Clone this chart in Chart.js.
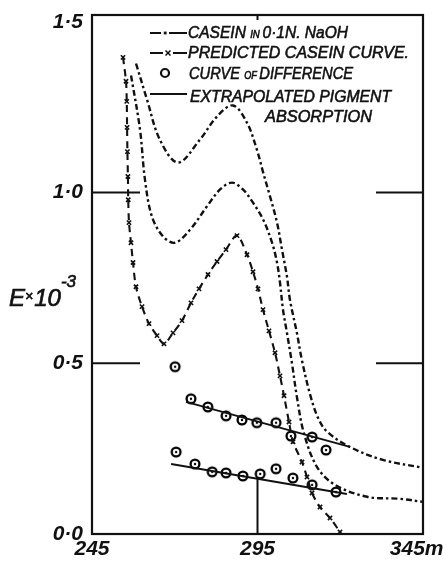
<!DOCTYPE html>
<html><head><meta charset="utf-8">
<script src="https://cdn.jsdelivr.net/npm/chart.js@4"></script>
<style>html,body{margin:0;padding:0;background:#fff;} #wrap{width:443px;height:566px;position:relative;}</style>
</head><body><div id="wrap"><canvas id="c"></canvas></div>
<script>
// ---- data ----
const xTickValues = [245, 295, 345];
const xTickLabels = ['245', '295', '345mμ'];
const yTickValues = [0, 0.5, 1.0, 1.5];
const yTickLabels = ['0·0', '0·5', '1·0', '1·5'];

const caseinUpperX = [258.3,261.6,265.5,271.0,277.6,282.8,287.6,291.8,294.8,296.7,298.8,300.9,302.4,303.9,304.8,306.9,308.4,310.9,313.3,316.0,322.9,332.9,345.0];
const caseinUpperY = [1.378,1.273,1.155,1.088,1.155,1.223,1.255,1.205,1.126,1.059,0.988,0.912,0.833,0.754,0.686,0.589,0.510,0.408,0.340,0.300,0.255,0.217,0.194];

const caseinLowerX = [256.8,259.5,261.0,263.1,266.5,270.1,274.6,279.7,283.7,287.3,290.6,293.6,296.7,299.4,300.9,301.8,302.7,303.9,305.4,306.9,309.0,313.0,318.4,328.1,338.1,345.0];
const caseinLowerY = [1.343,1.185,1.038,0.930,0.871,0.853,0.891,0.959,1.009,1.029,1.009,0.971,0.921,0.853,0.795,0.736,0.657,0.589,0.501,0.402,0.296,0.196,0.144,0.109,0.103,0.094];

const predictedX = [254.37,255.27,255.50,255.60,255.70,255.85,255.95,256.18,256.78,257.39,258.29,260.11,262.22,264.64,266.75,269.47,272.19,274.91,277.33,280.05,282.77,285.48,288.81,291.83,293.64,295.15,296.66,298.47,300.29,301.80,303.01,304.52,305.73,308.44,309.95,311.47,313.88,316.90,319.92];
const predictedY = [1.396,1.326,1.267,1.191,1.120,1.047,0.979,0.912,0.853,0.795,0.724,0.666,0.616,0.581,0.557,0.589,0.625,0.677,0.718,0.760,0.798,0.833,0.874,0.818,0.768,0.718,0.657,0.595,0.531,0.463,0.405,0.328,0.270,0.211,0.167,0.120,0.079,0.047,0.006];

const diffUpperX = [270.1,274.9,280.0,285.5,290.3,294.8,300.6,305.1,311.5,315.7];
const diffUpperY = [0.490,0.396,0.372,0.346,0.334,0.326,0.326,0.287,0.284,0.246];
const diffLowerX = [270.4,276.1,281.3,285.5,290.6,295.8,300.6,305.7,311.5,318.7];
const diffLowerY = [0.240,0.205,0.182,0.179,0.170,0.176,0.191,0.164,0.144,0.123];

const pigmentUpperX = [273.4, 322.9];
const pigmentUpperY = [0.387, 0.255];
const pigmentLowerX = [268.9, 322.0];
const pigmentLowerY = [0.205, 0.117];

const legendLabels = ['CASEIN IN 0·1N. NaOH', 'PREDICTED CASEIN CURVE.', 'CURVE OF DIFFERENCE', 'EXTRAPOLATED PIGMENT ABSORPTION'];

// ---- styling ----
const INK = '#111';
const FONT = '"Liberation Sans", Arimo, "DejaVu Sans", sans-serif';
const DASHDOT = [6, 3, 2.5, 3];

function pts(xs, ys) { return xs.map((x, i) => ({ x: x, y: ys[i] })); }

const ring = document.createElement('canvas');
ring.width = 14; ring.height = 14;
(function () {
  const g = ring.getContext('2d');
  g.beginPath(); g.arc(7, 7, 4.4, 0, Math.PI * 2);
  g.fillStyle = '#fff'; g.fill();
  g.strokeStyle = '#000'; g.lineWidth = 2.3; g.stroke();
  g.beginPath(); g.arc(7, 7, 1.2, 0, Math.PI * 2);
  g.fillStyle = '#000'; g.fill();
})();

const figurePlugin = {
  id: 'figure',
  beforeDatasetsDraw(chart) {
    const ctx = chart.ctx, a = chart.chartArea;
    const xs = chart.scales.x, ys = chart.scales.y;
    ctx.save();
    ctx.strokeStyle = INK;
    ctx.lineWidth = 2.2;
    ctx.strokeRect(a.left, a.top, a.right - a.left, a.bottom - a.top);
    ctx.lineWidth = 2;
    yTickValues.forEach(v => {
      if (v <= ys.min || v >= 1.5) return;
      const py = ys.getPixelForValue(v);
      ctx.beginPath();
      ctx.moveTo(a.left, py); ctx.lineTo(a.left + 48, py);
      ctx.moveTo(a.right - 47, py); ctx.lineTo(a.right, py);
      ctx.stroke();
    });
    xTickValues.forEach(v => {
      if (v <= xs.min || v >= xs.max) return;
      const px = xs.getPixelForValue(v);
      ctx.beginPath();
      ctx.moveTo(px, a.bottom); ctx.lineTo(px, a.bottom - 57);
      ctx.moveTo(px, a.top); ctx.lineTo(px, a.top + 5);
      ctx.stroke();
    });
    ctx.restore();
  },
  afterDraw(chart) {
    const ctx = chart.ctx;
    ctx.save();
    ctx.fillStyle = INK;
    ctx.strokeStyle = INK;
    ctx.textBaseline = 'alphabetic';
    // y axis title  E×10^-3
    let x = 9;
    const parts = [['E', 24, 306], ['×', 14, 301], ['10', 24, 306], ['-3', 17, 287]];
    ctx.lineWidth = 0.7;
    parts.forEach(p => {
      ctx.font = 'italic ' + p[1] + 'px ' + FONT;
      ctx.fillText(p[0], x, p[2]);
      ctx.strokeText(p[0], x, p[2]);
      x += ctx.measureText(p[0]).width + (p[0] === '×' ? 1 : 0);
    });

    // legend
    const rows = [
      { sample: 'dashdot', parts: [['CASEIN ', 1], ['IN ', 0.62], ['0·1N. NaOH', 1]], x: 188, w: 160, base: 38, sy: 33 },
      { sample: 'cross', parts: [[legendLabels[1], 1]], x: 188, w: 221, base: 58, sy: 53 },
      { sample: 'ring', parts: [['CURVE ', 1], ['OF ', 0.62], ['DIFFERENCE', 1]], x: 189, w: 164, base: 79, sy: 73 },
      { sample: 'solid', parts: [['EXTRAPOLATED PIGMENT', 1]], x: 190, w: 201, base: 102, sy: 94 },
      { sample: null, parts: [['ABSORPTION', 1]], x: 265, w: 107, base: 122 }
    ];
    const size = 17;
    rows.forEach(r => {
      let total = 0;
      r.parts.forEach(p => { ctx.font = 'italic ' + (size * p[1]) + 'px ' + FONT; total += ctx.measureText(p[0]).width; });
      const sx = r.w / total;
      ctx.save();
      ctx.translate(r.x, r.base);
      ctx.scale(sx, 1);
      ctx.lineWidth = 0.6;
      let cx = 0;
      r.parts.forEach(p => {
        ctx.font = 'italic ' + (size * p[1]) + 'px ' + FONT;
        ctx.fillText(p[0], cx, 0);
        ctx.strokeText(p[0], cx, 0);
        cx += ctx.measureText(p[0]).width;
      });
      ctx.restore();
      ctx.lineWidth = 2;
      ctx.setLineDash([]);
      if (r.sample === 'dashdot') {
        ctx.beginPath(); ctx.moveTo(150, r.sy); ctx.lineTo(161, r.sy); ctx.moveTo(169, r.sy); ctx.lineTo(187, r.sy); ctx.stroke();
        ctx.fillRect(163.8, r.sy - 1.4, 2.8, 2.8);
      } else if (r.sample === 'cross') {
        ctx.beginPath(); ctx.moveTo(150, r.sy); ctx.lineTo(163, r.sy); ctx.moveTo(173, r.sy); ctx.lineTo(187, r.sy); ctx.stroke();
        ctx.lineWidth = 1.5;
        ctx.beginPath(); ctx.moveTo(165.5, r.sy - 2.5); ctx.lineTo(170.5, r.sy + 2.5); ctx.moveTo(170.5, r.sy - 2.5); ctx.lineTo(165.5, r.sy + 2.5); ctx.stroke();
      } else if (r.sample === 'ring') {
        ctx.lineWidth = 2.2;
        ctx.beginPath(); ctx.arc(165, r.sy, 4, 0, Math.PI * 2); ctx.stroke();
      } else if (r.sample === 'solid') {
        ctx.beginPath(); ctx.moveTo(150, r.sy); ctx.lineTo(187, r.sy); ctx.stroke();
      }
    });
    ctx.restore();
  }
};

const lineBase = { showLine: true, borderColor: INK, backgroundColor: INK, fill: false, pointRadius: 0 };
const tickFont = { family: FONT, style: 'italic', weight: 'bold', size: 21 };

new Chart(document.getElementById('c'), {
  type: 'scatter',
  data: {
    datasets: [
      Object.assign({}, lineBase, { label: legendLabels[0], data: pts(caseinUpperX, caseinUpperY), borderWidth: 2.4, borderDash: DASHDOT, tension: 0.35 }),
      Object.assign({}, lineBase, { label: legendLabels[0], data: pts(caseinLowerX, caseinLowerY), borderWidth: 2.4, borderDash: DASHDOT, tension: 0.35 }),
      Object.assign({}, lineBase, { label: legendLabels[1], data: pts(predictedX, predictedY), borderWidth: 2.1, borderDash: [7, 5], tension: 0.3,
        pointRadius: 3, pointStyle: 'crossRot', pointBorderColor: INK, pointBorderWidth: 1.6 }),
      Object.assign({}, lineBase, { label: legendLabels[3], data: pts(pigmentUpperX, pigmentUpperY), borderWidth: 1.9, tension: 0 }),
      Object.assign({}, lineBase, { label: legendLabels[3], data: pts(pigmentLowerX, pigmentLowerY), borderWidth: 1.9, tension: 0 }),
      { label: legendLabels[2], data: pts(diffUpperX, diffUpperY), showLine: false, pointStyle: ring, pointRadius: 6 },
      { label: legendLabels[2], data: pts(diffLowerX, diffLowerY), showLine: false, pointStyle: ring, pointRadius: 6 }
    ]
  },
  options: {
    responsive: true,
    maintainAspectRatio: false,
    animation: false,
    layout: { padding: { top: 15, right: 20, left: 0, bottom: 0 } },
    plugins: { legend: { display: false }, tooltip: { enabled: false } },
    scales: {
      x: {
        type: 'linear', min: 245, max: 345,
        grid: { display: false, drawTicks: false },
        border: { display: false },
        afterBuildTicks: s => { s.ticks = xTickValues.map(v => ({ value: v })); },
        afterFit: s => { s.height = 32; s.paddingLeft = 0; s.paddingRight = 0; },
        ticks: {
          callback: v => xTickLabels[xTickValues.indexOf(v)],
          font: tickFont, color: INK, padding: 3, maxRotation: 0, autoSkip: false
        }
      },
      y: {
        type: 'linear', min: 0, max: 1.52,
        grid: { display: false, drawTicks: false },
        border: { display: false },
        afterBuildTicks: s => { s.ticks = yTickValues.map(v => ({ value: v })); },
        afterFit: s => { s.width = 92; s.paddingTop = 0; s.paddingBottom = 0; },
        ticks: {
          callback: v => yTickLabels[yTickValues.indexOf(v)],
          font: tickFont, color: INK, padding: 9, autoSkip: false
        }
      }
    }
  },
  plugins: [figurePlugin]
});
</script>
</body></html>
